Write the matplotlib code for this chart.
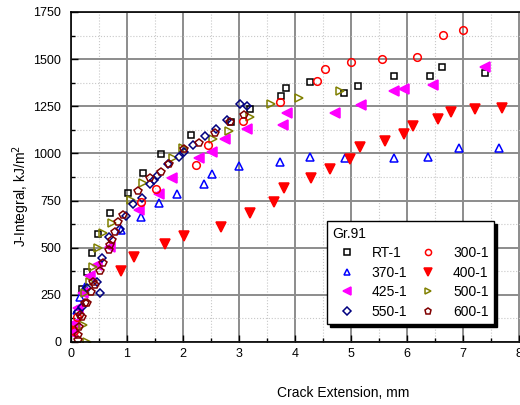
import matplotlib
matplotlib.use('Agg')
import matplotlib.pyplot as plt
from matplotlib.ticker import MultipleLocator

plt.rcParams['font.family'] = ['Liberation Sans', 'DejaVu Sans']

# RT-1
rt_x = [0.20, 0.28, 0.37, 0.49, 0.70, 1.02, 1.28, 1.61, 2.14, 2.86, 3.19, 3.75, 3.83, 4.27, 4.88, 5.13, 5.76, 6.41, 6.63, 7.39]
rt_y = [279, 373, 470, 574, 683, 792, 895, 997, 1100, 1168, 1234, 1302, 1345, 1380, 1319, 1358, 1411, 1411, 1457, 1428]

# 300-1
t300_x = [0.05, 0.10, 1.25, 1.51, 2.24, 2.44, 3.07, 3.73, 4.39, 4.54, 4.99, 5.56, 6.17, 6.64, 7.00]
t300_y = [60, 130, 741, 810, 937, 1045, 1172, 1274, 1384, 1448, 1483, 1501, 1510, 1626, 1655]

# 370-1
t370_x = [0.10, 0.16, 0.25, 0.89, 1.25, 1.57, 1.89, 2.37, 2.52, 3.00, 3.74, 4.26, 4.89, 5.76, 6.38, 6.93, 7.64]
t370_y = [170, 240, 292, 594, 662, 735, 787, 840, 893, 934, 952, 979, 974, 974, 979, 1030, 1030]

# 400-1
t400_x = [0.03, 0.89, 1.13, 1.67, 2.02, 2.67, 3.20, 3.63, 3.80, 4.29, 4.63, 4.98, 5.16, 5.61, 5.95, 6.11, 6.55, 6.79, 7.21, 7.70]
t400_y = [60, 378, 452, 518, 562, 611, 682, 744, 818, 870, 919, 969, 1032, 1066, 1101, 1147, 1183, 1218, 1236, 1239]

# 425-1
t425_x = [0.01, 0.07, 0.13, 0.22, 0.34, 0.46, 0.70, 1.22, 1.58, 1.80, 2.29, 2.52, 2.75, 3.14, 3.78, 3.85, 4.71, 5.18, 5.76, 5.95, 6.47, 7.39]
t425_y = [46, 99, 179, 258, 350, 408, 505, 700, 787, 870, 974, 1009, 1075, 1131, 1151, 1216, 1216, 1257, 1333, 1342, 1363, 1456]

# 500-1
t500_x = [0.28, 0.22, 0.25, 0.34, 0.40, 0.49, 0.58, 0.73, 1.08, 1.29, 1.83, 2.00, 2.53, 2.82, 3.20, 3.57, 4.07, 4.80]
t500_y = [2, 90, 261, 320, 399, 497, 576, 632, 753, 842, 974, 1027, 1077, 1120, 1195, 1260, 1296, 1333]

# 550-1
t550_x = [0.13, 0.20, 0.28, 0.46, 0.52, 0.55, 0.67, 0.875, 0.99, 1.11, 1.26, 1.41, 1.49, 1.53, 1.74, 1.92, 2.02, 2.18, 2.39, 2.58, 2.78, 3.02, 3.14]
t550_y = [161, 187, 285, 320, 258, 444, 555, 598, 670, 730, 762, 838, 859, 882, 942, 983, 1009, 1045, 1093, 1127, 1179, 1261, 1251]

# 600-1
t600_x = [0.13, 0.13, 0.14, 0.16, 0.20, 0.25, 0.29, 0.35, 0.40, 0.42, 0.51, 0.58, 0.67, 0.70, 0.73, 0.79, 0.845, 0.93, 1.20, 1.41, 1.60, 1.75, 2.02, 2.29, 2.57, 2.83, 3.08]
t600_y = [11, 37, 81, 143, 134, 205, 208, 267, 320, 302, 378, 417, 488, 514, 541, 585, 638, 673, 802, 872, 899, 942, 1022, 1055, 1108, 1168, 1202]

fig = plt.figure(figsize=(5.2, 4.05), dpi=100)
ax = fig.add_axes([0.1365, 0.1556, 0.864, 0.8148])

ms = 5
mew = 1.1
h_rt, = ax.plot(rt_x, rt_y, 's', ms=ms, mfc='none', mec='black', mew=mew, label='RT-1')
h_370, = ax.plot(t370_x, t370_y, '^', ms=ms + 1, mfc='none', mec='blue', mew=mew, label='370-1')
h_400, = ax.plot(t400_x, t400_y, 'v', ms=ms + 2, mfc='red', mec='red', mew=mew, label='400-1')
h_425, = ax.plot(t425_x, t425_y, '<', ms=ms + 2, mfc='magenta', mec='magenta', mew=mew, label='425-1')
h_500, = ax.plot(t500_x, t500_y, '>', ms=ms + 1, mfc='none', mec='#808000', mew=mew, label='500-1')
h_550, = ax.plot(t550_x, t550_y, 'D', ms=ms - 0.5, mfc='none', mec='#000080', mew=mew, label='550-1')
h_300, = ax.plot(t300_x, t300_y, 'o', ms=ms + 0.5, mfc='none', mec='red', mew=mew, label='300-1')
h_600, = ax.plot(t600_x, t600_y, 'p', ms=ms + 1, mfc='none', mec='#800000', mew=mew, label='600-1')

ax.set_xlim(0, 8.02)
ax.set_ylim(0, 1750)
ax.xaxis.set_major_locator(MultipleLocator(1))
ax.xaxis.set_minor_locator(MultipleLocator(0.5))
ax.yaxis.set_major_locator(MultipleLocator(250))
ax.yaxis.set_minor_locator(MultipleLocator(125))

ax.grid(which='major', color='#8c8c8c', lw=1.4, ls='-')
ax.grid(which='minor', color='#c8c8c8', lw=0.8, ls=':')
ax.set_axisbelow(True)

ax.tick_params(which='both', direction='in', top=False, right=False, labelsize=9)
ax.tick_params(which='major', length=5, width=1)
ax.tick_params(which='minor', length=3, width=1)
ax.tick_params(axis='y', pad=7)
ax.tick_params(axis='x', pad=4)
for s in ['left', 'bottom', 'top']:
    ax.spines[s].set_linewidth(1.2)
ax.spines['right'].set_visible(False)

fig.text(343 / 520, 1 - 393 / 405, 'Crack Extension, mm', ha='center', va='center', fontsize=10)
fig.text(21 / 520, 1 - 196 / 405, 'J-Integral, kJ/m$^2$', ha='center', va='center',
         rotation=90, fontsize=10)

handles = [h_rt, h_370, h_425, h_550, h_300, h_400, h_500, h_600]
leg = ax.legend(handles=handles, ncol=2, title='Gr.91', fontsize=10, title_fontsize=10,
                loc='upper left', bbox_to_anchor=((327 - 71) / 449, 1 - (221 - 12) / 330),
                borderaxespad=0, frameon=True, fancybox=False,
                shadow={'color': 'black', 'alpha': 1},
                edgecolor='black', framealpha=1, handlelength=2.0, handletextpad=0.8,
                columnspacing=0.5, labelspacing=0.4, borderpad=0.4, alignment='left',
                markerscale=0.8)
leg.get_frame().set_linewidth(1.0)

fig.savefig('out.png', dpi=100)
